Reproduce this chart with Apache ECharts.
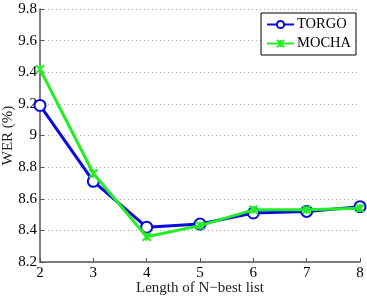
<!DOCTYPE html>
<html>
<head>
<meta charset="utf-8">
<script src="https://cdn.jsdelivr.net/npm/echarts@6/dist/echarts.min.js"></script>
<style>
html,body{margin:0;padding:0;background:#fff;}
#chart{width:367px;height:296px;}
</style>
</head>
<body>
<div id="chart"></div>
<script>
var nBest = [2, 3, 4, 5, 6, 7, 8];//x轴
var torgo = [9.19, 8.71, 8.42, 8.44, 8.51, 8.52, 8.55];
var mocha = [9.42, 8.76, 8.36, 8.43, 8.53, 8.53, 8.54];

function pairs(vals){
    var out = [];
    for (var i = 0; i < nBest.length; i++) {
        out.push([nBest[i], vals[i]]);
    }
    return out;
}

var font = 'Liberation Serif';
var crossPath = 'path://M0,0L10,10M10,0L0,10M5,0L5,10';

var myChart = echarts.init(document.getElementById('chart'));
var option = {
    animation: false,
    grid: {left: 40, right: 7, top: 9, bottom: 34, containLabel: false, outerBoundsMode: 'none'},
    legend: {
        right: 11,
        top: 13,
        orient: 'vertical',
        backgroundColor: '#fff',
        borderColor: '#000',
        borderWidth: 1,
        borderRadius: 0,
        padding: [4, 5, 4, 5],
        itemGap: 4,
        itemWidth: 27,
        itemHeight: 9,
        textStyle: {fontFamily: font, fontSize: 14.5, color: '#000', padding: [0, 0, 0, -2]},
        data: ['TORGO', 'MOCHA']
    },
    xAxis: {
        type: 'value',
        min: 2,
        max: 8,
        interval: 1,
        name: 'Length of N\u2212best list',
        nameLocation: 'middle',
        nameGap: 19,
        nameMoveOverlap: false,
        nameTextStyle: {fontFamily: font, fontSize: 15, color: '#222', lineHeight: 15},
        axisLine: {lineStyle: {color: '#555', width: 1.5}},
        axisTick: {inside: true, length: 4, lineStyle: {color: '#555'}},
        axisLabel: {fontFamily: font, fontSize: 15, color: '#000', margin: 4},
        splitLine: {show: false}
    },
    yAxis: {
        type: 'value',
        min: 8.2,
        max: 9.8,
        interval: 0.2,
        name: 'WER (%)',
        nameLocation: 'middle',
        nameGap: 24,
        nameMoveOverlap: false,
        nameTextStyle: {fontFamily: font, fontSize: 15, color: '#222', lineHeight: 15},
        axisLine: {show: true, lineStyle: {color: '#555', width: 1.5}},
        axisTick: {show: true, inside: true, length: 4, lineStyle: {color: '#555'}},
        axisLabel: {
            fontFamily: font, fontSize: 15, color: '#000', margin: 3,
            formatter: function (v) { return String(Math.round(v * 10) / 10); }
        },
        splitLine: {lineStyle: {color: '#aaa', type: [1, 3], width: 1}}
    },
    series: [
        {
            name: 'TORGO',
            type: 'line',
            data: pairs(torgo),
            symbol: 'emptyCircle',
            symbolSize: 11,
            lineStyle: {color: '#0a0ae0', width: 3},
            itemStyle: {color: '#0a0ae0', borderWidth: 2.5},
            z: 2
        },
        {
            name: 'MOCHA',
            type: 'line',
            data: pairs(mocha),
            symbol: crossPath,
            symbolSize: 8,
            lineStyle: {color: '#22ee22', width: 3},
            itemStyle: {color: '#22ee22', borderColor: '#22ee22', borderWidth: 2},
            z: 3
        }
    ]
};
myChart.setOption(option);
</script>
</body>
</html>
